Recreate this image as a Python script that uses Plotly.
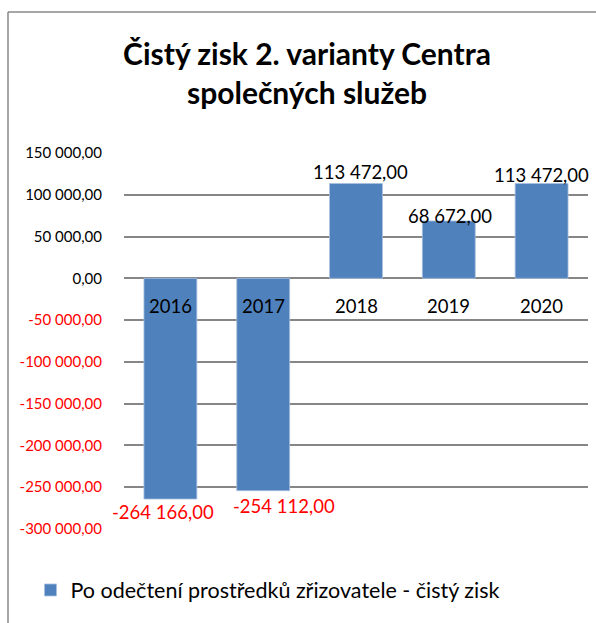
import plotly.graph_objects as go

# ---- data ----
years = ["2016", "2017", "2018", "2019", "2020"]
net_profit = [-264166.00, -254112.00, 113472.00, 68672.00, 113472.00]
y_tick_values = [150000, 100000, 50000, 0, -50000, -100000, -150000, -200000, -250000, -300000]
series_name = "Po odečtení prostředků zřizovatele - čistý zisk"
title_lines = ["Čistý zisk 2. varianty Centra", "společných služeb"]

# ---- styling ----
W, H = 596, 623
ML, MR, MT, MB = 124, 8, 153, 94
BAR_COLOR = "#4F81BD"
GRID_COLOR = "#868686"
NEG_COLOR = "#FF0000"
FONT = "Lato, Calibri, Carlito, sans-serif"
# per-label nudges (px) mimicking the original's label placement
LABEL_DX = [-7, 21, 4, 1, 0]
LABEL_GAP = [13, 15, 12, 5, 9]


def fmt(v):
    s = f"{abs(v):,.2f}".replace(",", " ").replace(".", ",")
    return ("-" if v < 0 else "") + s


tick_text = [
    f"<span style='color:{NEG_COLOR}'>{fmt(v)}</span>" if v < 0 else fmt(v)
    for v in y_tick_values
]

fig = go.Figure()
fig.add_trace(go.Bar(
    x=years,
    y=net_profit,
    name=series_name,
    marker=dict(color=BAR_COLOR, line=dict(color="#a9c0de", width=0.8)),
    cliponaxis=False,
    showlegend=True,
    hovertemplate="%{x}: %{y:,.2f}<extra></extra>",
))

# data labels at the bar ends
for i, v in enumerate(net_profit):
    sign = 1 if v >= 0 else -1
    fig.add_annotation(
        x=i, y=v, xref="x", yref="y", text=fmt(v), showarrow=False,
        xanchor="center", yanchor="middle",
        xshift=LABEL_DX[i], yshift=sign * LABEL_GAP[i],
        font=dict(family=FONT, size=18.5, color=NEG_COLOR if v < 0 else "#000000"),
    )

# category labels sitting next to the zero line (category index positions)
for i, yr in enumerate(years):
    fig.add_annotation(
        x=i, y=0, xref="x", yref="y", text=yr, showarrow=False,
        yanchor="middle", yshift=-28,
        font=dict(family=FONT, size=18.5, color="#000000"),
    )

# chart border (left and top edges visible)
pw = W - ML - MR
ph = H - MT - MB
bx = (8 - ML) / pw
by = (H - MB - 12) / ph
fig.add_shape(type="line", xref="paper", yref="paper", x0=bx, x1=bx, y0=by, y1=-MB / ph - 0.01,
              line=dict(color="#888888", width=1.5))
fig.add_shape(type="line", xref="paper", yref="paper", x0=bx, x1=1 + MR / pw + 0.01, y0=by, y1=by,
              line=dict(color="#888888", width=1.5))

fig.update_layout(
    width=W, height=H,
    margin=dict(l=ML, r=MR, t=MT, b=MB, pad=0),
    paper_bgcolor="white", plot_bgcolor="white",
    font=dict(family=FONT, color="#000000"),
    separators=", ",
    bargap=0.43,
    title=dict(
        text="<br>".join(title_lines),
        x=307 / W, xanchor="center", xref="container",
        y=1 - 65 / H, yanchor="middle", yref="container",
        font=dict(family=FONT, size=30, color="#000000", weight="bold"),
    ),
    xaxis=dict(type="category", range=[-0.5, len(years) - 0.5], showticklabels=False,
               showgrid=False, zeroline=False, showline=False, ticks=""),
    yaxis=dict(
        range=[-300000, 150000],
        tickvals=y_tick_values, ticktext=tick_text,
        showgrid=True, gridcolor=GRID_COLOR, gridwidth=1.5,
        zeroline=True, zerolinecolor=GRID_COLOR, zerolinewidth=1.5,
        showline=False,
        ticks="outside", ticklen=18, tickcolor="rgba(0,0,0,0)",
        tickfont=dict(family=FONT, size=15, color="#000000"),
    ),
    legend=dict(
        orientation="h", xref="container", yref="container",
        x=268 / W, xanchor="center", y=1 - 590 / H, yanchor="middle",
        font=dict(family=FONT, size=21.5, color="#000000"),
    ),
)

fig.write_html("out.html", config={"displayModeBar": False})
with open("out.html", encoding="utf-8") as f:
    html = f.read()
html = html.replace("<body>", "<body style=\"margin:0\">", 1)
with open("out.html", "w", encoding="utf-8") as f:
    f.write(html)
